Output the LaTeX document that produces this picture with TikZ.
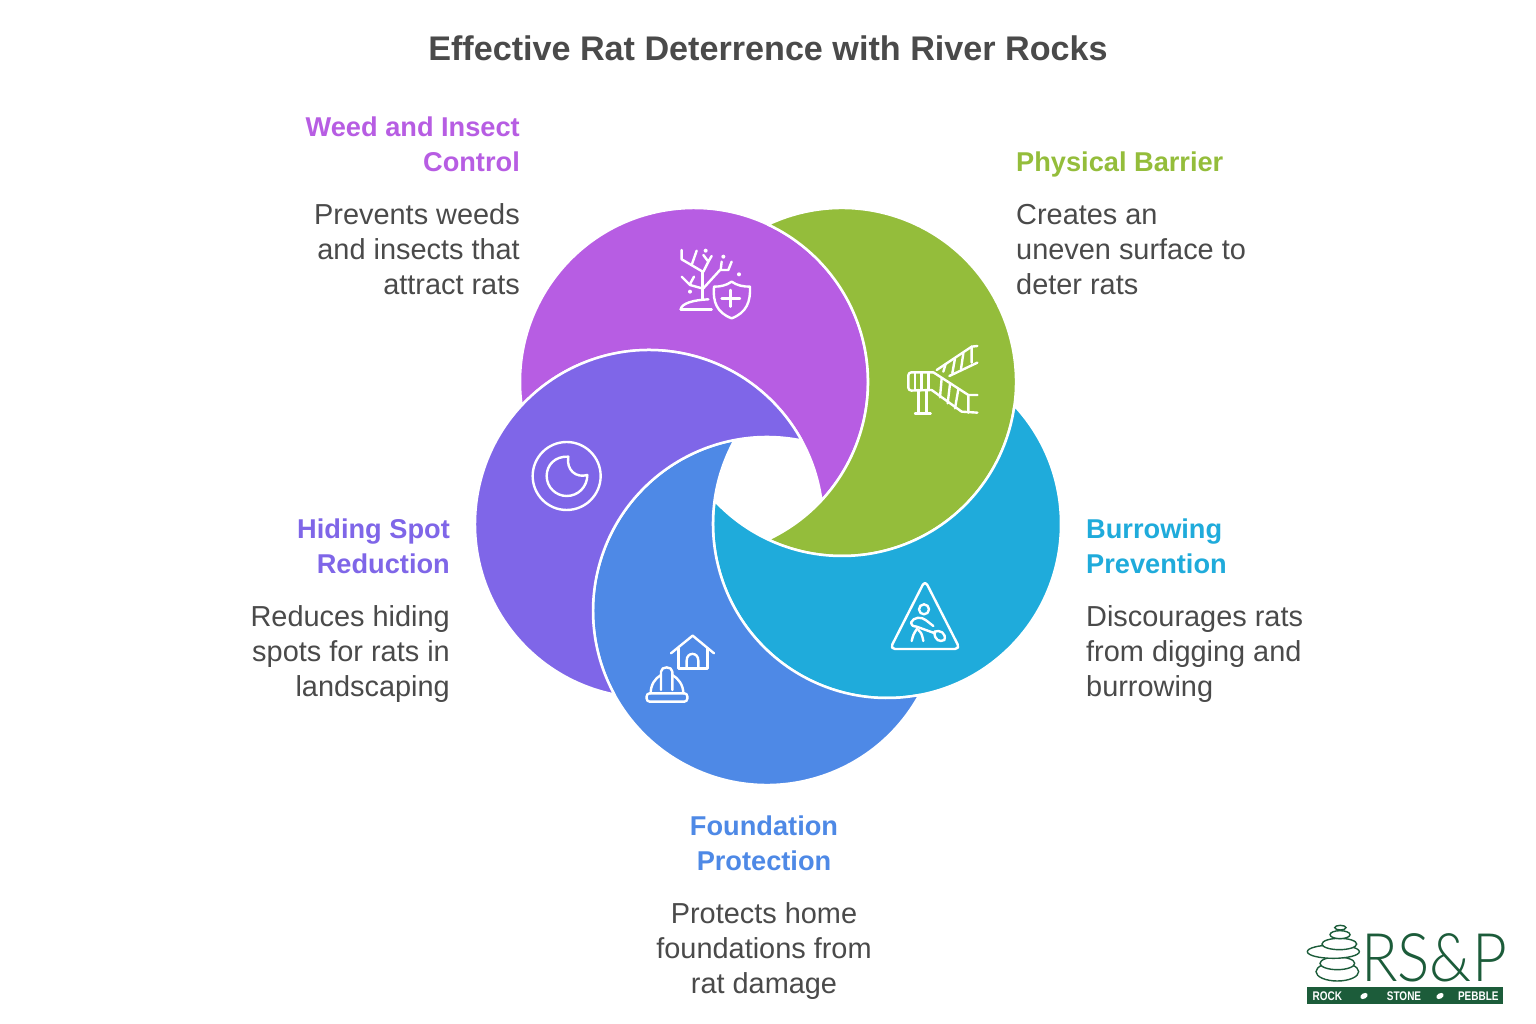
\documentclass[tikz,border=0pt]{standalone}
\usepackage{fontspec}
\setmainfont{Liberation Sans}
\newfontfamily\logofont{Lato Light}
\usetikzlibrary{calc}
\definecolor{cpurple}{HTML}{B75DE3}
\definecolor{cgreen}{HTML}{94BD3B}
\definecolor{ccyan}{HTML}{1FABDB}
\definecolor{cblue}{HTML}{4E89E6}
\definecolor{cviolet}{HTML}{7F66E8}
\definecolor{ctext}{HTML}{4A4A4A}
\definecolor{clogo}{HTML}{1C5C3A}
\newcommand{\crescent}[5]{%
  \pgfmathsetmacro{\ca}{atan2(#4-#2,#3-#1)}%
  \pgfmathsetmacro{\cd}{veclen(#3-#1,#4-#2)}%
  \pgfmathsetmacro{\ch}{acos(\cd/2/174)}%
  \pgfmathsetmacro{\csa}{\ca+\ch}%
  \pgfmathsetmacro{\cea}{\ca+360-\ch}%
  \pgfmathsetmacro{\csb}{\ca+180+\ch}%
  \pgfmathsetmacro{\ceb}{\ca+180-\ch}%
  \filldraw[crescentshape,fill=#5] ({#1+174*cos(\csa)},{#2+174*sin(\csa)})
    arc[start angle=\csa,end angle=\cea,radius=174]
    arc[start angle=\csb,end angle=\ceb,radius=174]
    -- cycle;%
}
\tikzset{
  crescentshape/.style={draw=white,line width=2.5pt,line join=round},
  icon/.style={draw=white,line width=2.4pt,line cap=round,line join=round,fill=none},
  dotmark/.style={fill=white,draw=none},
  heading/.style={font=\fontsize{27.2}{35}\selectfont\bfseries,inner sep=0pt},
  body/.style={font=\fontsize{28.9}{35}\selectfont,text=ctext,inner sep=0pt},
  stone/.style={draw=clogo,line width=1.4pt,fill=white},
  logotext/.style={font=\fontsize{12.5}{14}\selectfont\bfseries,text=white,inner sep=0pt,xscale=.8},
}
\begin{document}
\begin{tikzpicture}[x=1pt,y=-1pt]
\useasboundingbox (0,0) rectangle (1536,1024);
\fill[white] (0,0) rectangle (1536,1024);

\crescent{694}{382}{649}{524}{cpurple}
\crescent{842}{382}{694}{382}{cgreen}
\crescent{887}{524}{842}{382}{ccyan}
\crescent{767}{611}{887}{524}{cblue}
\crescent{649}{524}{767}{611}{cviolet}

\node[font=\fontsize{34.15}{40}\selectfont\bfseries,text=ctext,inner sep=0pt,anchor=base] (title) at (768,61) {Effective Rat Deterrence with River Rocks};

\node[heading,text=cpurple,align=right,anchor=base east] (h1) at (520,172) {Weed and Insect\\Control};
\node[body,align=right,anchor=base east] (b1) at (520,294.6) {Prevents weeds\\and insects that\\attract rats};
\node[heading,text=cgreen,align=left,anchor=base west] (h2) at (1016,172) {Physical Barrier};
\node[body,align=left,anchor=base west] (b2) at (1016,294.6) {Creates an\\uneven surface to\\deter rats};
\node[heading,text=ccyan,align=left,anchor=base west] (h3) at (1086,573) {Burrowing\\Prevention};
\node[body,align=left,anchor=base west] (b3) at (1086,696) {Discourages rats\\from digging and\\burrowing};
\node[heading,text=cblue,align=center,anchor=base] (h4) at (764,870) {Foundation\\Protection};
\node[body,align=center,anchor=base] (b4) at (764,993) {Protects home\\foundations from\\rat damage};
\node[heading,text=cviolet,align=right,anchor=base east] (h5) at (450,573) {Hiding Spot\\Reduction};
\node[body,align=right,anchor=base east] (b5) at (450,696) {Reduces hiding\\spots for rats in\\landscaping};

% tree and shield, coordinates of crop 640,220
\begin{scope}[shift={(640,220)},x=.3333pt,y=-.3333pt]
  \draw[icon] (188,155)--(188,238);
  \draw[icon] (122,268)--(215,268);
  \draw[icon] (122,268) .. controls (125,250) and (160,240) .. (205,238);
  \draw[icon] (125,90)--(125,118)--(188,155);
  \draw[icon] (155,135)--(170,92);
  \draw[icon] (190,105)--(205,125)--(215,108);
  \draw[icon] (205,125)--(190,155);
  \draw[icon] (190,205)--(240,150)--(265,150)--(275,125);
  \draw[icon] (242,150)--(245,125);
  \draw[icon] (125,170)--(150,195)--(186,205);
  \draw[icon] (150,192)--(162,170);
  \fill[dotmark] (197,92) circle (6) (250,110) circle (6) (297,163) circle (6) (150,215) circle (6);
  \draw[icon] (275,185) .. controls (292,197) and (310,200) .. (330,200) .. controls (332,245) and (320,278) .. (275,295) .. controls (230,278) and (218,245) .. (222,200) .. controls (240,200) and (258,197) .. (275,185) -- cycle;
  \draw[icon] (272,210)--(272,260) (245,235)--(300,235);
\end{scope}
% barrier, coordinates of crop 900,340
\begin{scope}[shift={(900,340)},x=.3333pt,y=-.3333pt]
  \draw[icon,rounded corners=3pt] (100,97)--(25,97)--(25,152)--(95,150);
  \draw[icon] (45,97)--(45,150) (65,97)--(65,150) (85,97)--(85,150);
  \draw[icon] (100,97)--(205,165)--(232,165);
  \draw[icon] (95,150)--(185,215)--(232,218);
  \draw[icon] (125,115)--(120,172) (150,132)--(143,190) (175,148)--(165,205) (205,165)--(205,218);
  \draw[icon] (55,150)--(55,218) (80,152)--(80,218) (45,220)--(92,220);
  \draw[icon] (110,90)--(215,20)--(232,18);
  \draw[icon] (148,108)--(232,68);
  \draw[icon] (137,72)--(130,95) (165,55)--(157,100) (190,40)--(183,87) (215,20)--(215,68);
\end{scope}
% digger, coordinates of crop 885,575
\begin{scope}[shift={(885,575)},x=.3333pt,y=-.3333pt]
  \draw[icon,rounded corners=5pt] (120,16)--(15,222)--(225,222)--cycle;
  \draw[icon] (117,103) circle (15);
  \draw[icon] (78,143) .. controls (85,125) and (110,125) .. (122,135) -- (145,153);
  \draw[icon] (78,143) .. controls (82,153) .. (95,155) -- (150,175);
  \draw[icon] (148,170) .. controls (165,163) and (185,175) .. (178,195) .. controls (165,202) and (148,197) .. (148,170) -- cycle;
  \draw[icon] (80,198) .. controls (85,178) .. (97,160);
  \draw[icon] (100,165) .. controls (110,175) .. (115,198);
\end{scope}
% moon, house and helmet, coordinates of crop 500,420
\begin{scope}[shift={(500,420)},x=.3333pt,y=-.3333pt]
  \draw[icon] (200,168) circle (102);
  \draw[icon] (205,110) .. controls (165,108) and (140,135) .. (140,168) .. controls (140,202) and (168,228) .. (200,228) .. controls (235,228) and (262,200) .. (262,165) .. controls (228,175) and (198,150) .. (205,110) -- cycle;
  \draw[icon] (513,700)--(578,647)--(642,700);
  \draw[icon] (535,685)--(535,745)--(622,745)--(622,685);
  \draw[icon] (560,745)--(560,722) .. controls (560,695) and (595,695) .. (595,722)--(595,745);
  \draw[icon,rounded corners=3pt] (440,820) rectangle (562,845);
  \draw[icon] (452,820) .. controls (452,795) and (465,775) .. (483,765);
  \draw[icon] (517,765) .. controls (535,775) and (550,795) .. (550,820);
  \draw[icon] (483,810)--(483,755) .. controls (483,738) and (517,738) .. (517,755)--(517,810);
\end{scope}
% logo, coordinates of crop 1280,900
\begin{scope}[shift={(1280,900)},x=.3333pt,y=-.3333pt]
  \filldraw[stone] (172,215) ellipse (64 and 28);
  \filldraw[stone] (172,190) ellipse (52 and 19);
  \filldraw[stone] (160,155) ellipse (78 and 20);
  \filldraw[stone] (178,132) ellipse (52 and 17);
  \filldraw[stone] (180,104) ellipse (30 and 12);
  \filldraw[stone] (181,83) ellipse (17 and 7);
  \node[font=\fontsize{67}{69}\selectfont\logofont,text=clogo,inner sep=0pt,xscale=.9,anchor=base] (rsp) at (462,245) {RS\&P};
  \fill[clogo] (82,262) rectangle (668,313);
  \node[logotext,anchor=center] (rock) at (142,288) {ROCK};
  \node[logotext,anchor=center] (stonelabel) at (372,288) {STONE};
  \node[logotext,anchor=center] (pebble) at (595,288) {PEBBLE};
  \fill[white,rotate around={30:(252,288)}] (252,288) ellipse (12 and 8);
  \fill[white,rotate around={30:(480,288)}] (480,288) ellipse (12 and 8);
\end{scope}
\end{tikzpicture}
\end{document}
